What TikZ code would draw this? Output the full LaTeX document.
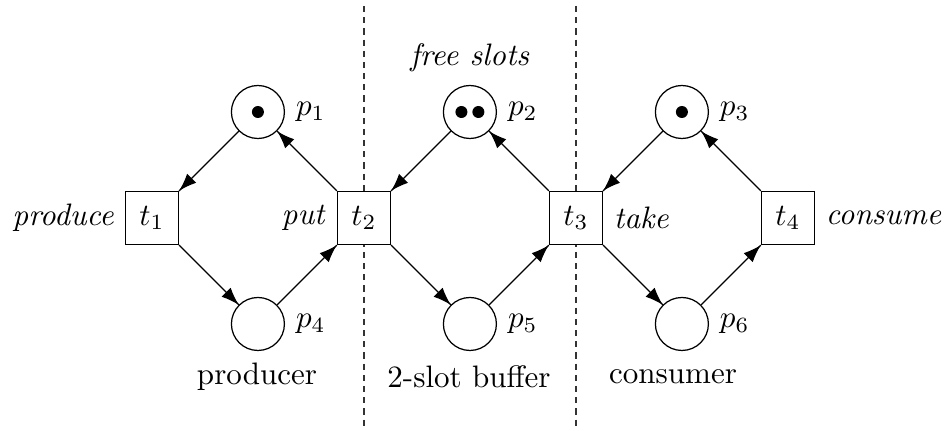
\documentclass[tikz,border=0pt]{standalone}
\usepackage{amsmath}
\usepackage{amssymb}
\usepackage{tikz}
\usetikzlibrary{arrows.meta}
\usetikzlibrary{decorations.markings}
\tikzset{->/.style = {decoration={markings,
                                  mark=at position 1 with {\arrow{Latex[length=2mm, width=1.45mm]}}},
                      postaction={decorate}}}
\tikzset{place/.style = {draw, circle, minimum size=6mm, inner sep=0pt}}
\tikzset{transition/.style = {draw, fill=white, rectangle, minimum size=6mm, inner sep=0pt}}
\tikzset{divider/.style = {dash pattern=on 2pt off 1.6pt, black!80}}

\begin{document}
\begin{tikzpicture}
      \useasboundingbox (-1.72, -2.411) rectangle (8.99, 2.468);

      \draw [divider] (2.4, 2.4) -- (2.4, -2.38);
      \draw [divider] (4.8, 2.4) -- (4.8, -2.38);

      \node [transition, label=left:{\textit{produce}}] (t1) at (0, 0) {$t_1$};
      \node [transition, label=left:{\textit{put}}] (t2) at (2.4, 0) {$t_2$};
      \node [transition, label=right:{\textit{take}}] (t3) at (4.8, 0) {$t_3$};
      \node [transition, label=right:{\textit{consume}}] (t4) at (7.2, 0) {$t_4$};

      \node [place, label=right:{$p_1$}] (p1) at (1.2, 1.2) {};
      \node [place, label=right:{$p_2$}] (p2) at (3.6, 1.2) {};
      \node [place, label=right:{$p_3$}] (p3) at (6.0, 1.2) {};
      \node [place, label=right:{$p_4$}] (p4) at (1.2, -1.2) {};
      \node [place, label=right:{$p_5$}] (p5) at (3.6, -1.2) {};
      \node [place, label=right:{$p_6$}] (p6) at (6.0, -1.2) {};

      \fill (p1) circle (0.068);
      \fill ([xshift=-0.096cm] p2.center) circle (0.068);
      \fill ([xshift=0.096cm] p2.center) circle (0.068);
      \fill (p3) circle (0.068);

      \node (slots) at (3.6, 1.81) {\textit{free slots}};
      \node (producer) at (1.19, -1.8) {producer};
      \node (buffer) at (3.59, -1.8) {2-slot buffer};
      \node (consumer) at (5.9, -1.8) {consumer};

      \draw [->] (p1) -- (t1);
      \draw [->] (t1) -- (p4);
      \draw [->] (p4) -- (t2);
      \draw [->] (t2) -- (p1);

      \draw [->] (p2) -- (t2);
      \draw [->] (t2) -- (p5);
      \draw [->] (p5) -- (t3);
      \draw [->] (t3) -- (p2);

      \draw [->] (p3) -- (t3);
      \draw [->] (t3) -- (p6);
      \draw [->] (p6) -- (t4);
      \draw [->] (t4) -- (p3);
    \end{tikzpicture}
\end{document}
